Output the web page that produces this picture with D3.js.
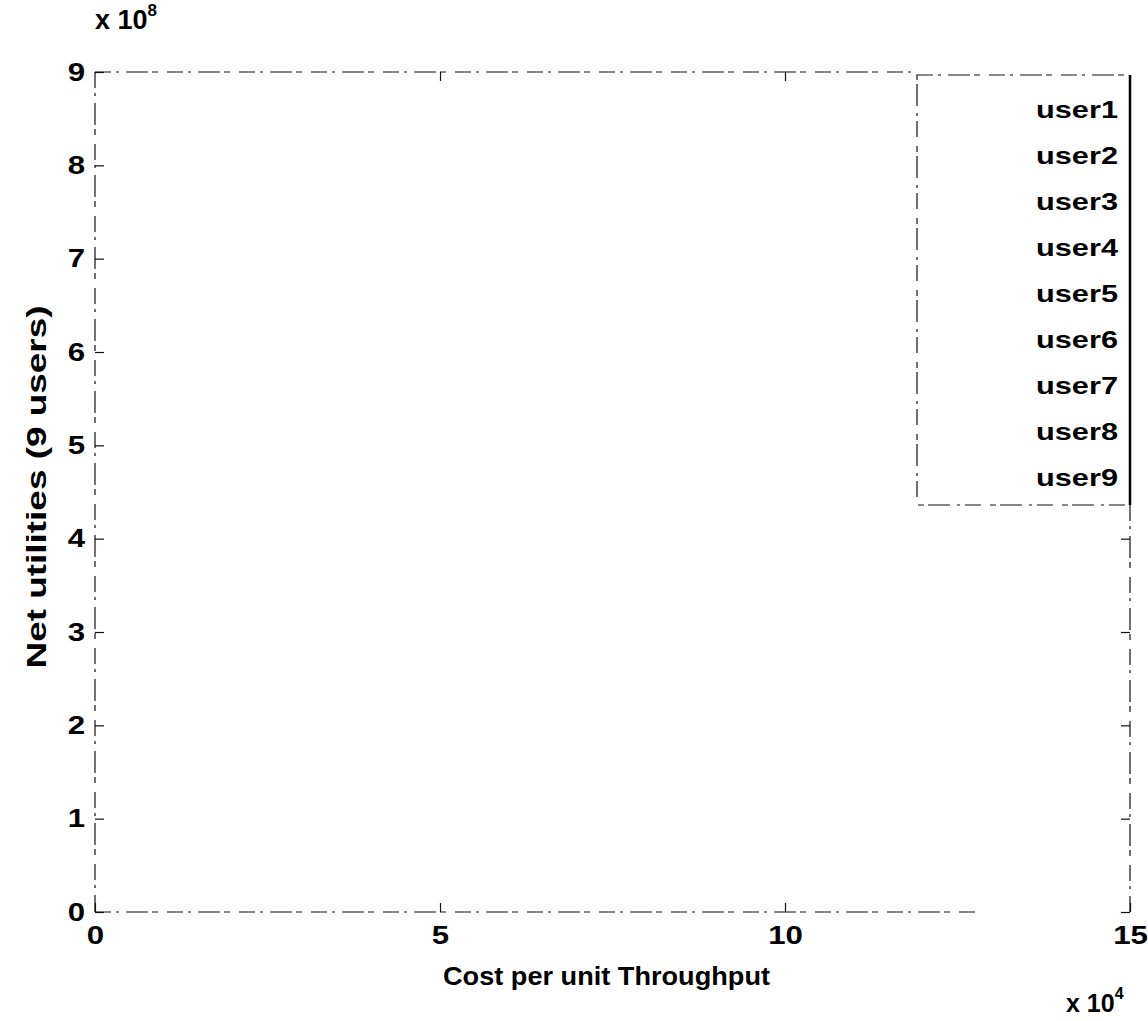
<!DOCTYPE html>
<html>
<head>
<meta charset="utf-8">
<script src="https://cdn.jsdelivr.net/npm/d3@7"></script>
<style>
  html, body { margin: 0; padding: 0; background: #fff; }
  svg { display: block; font-family: "Liberation Sans", Arial, sans-serif; font-weight: bold; }
</style>
</head>
<body>
<svg id="chart" width="1148" height="1021"></svg>
<script>
// Axis ticks (x in units of 1e4, y in units of 1e8)
const xTicks = [0, 5, 10, 15];
const yTicks = [0, 1, 2, 3, 4, 5, 6, 7, 8, 9];
const xDomain = [0, 15];
const yDomain = [0, 9];
// Legend entries
const users = ["user1", "user2", "user3", "user4", "user5", "user6", "user7", "user8", "user9"];
const xLabel = "Cost per unit Throughput";
const yLabel = "Net utilities (9 users)";

const svg = d3.select("#chart");
const box = { left: 95, right: 1130, top: 72, bottom: 912 };

const x = d3.scaleLinear().domain(xDomain).range([box.left, box.right]);
const y = d3.scaleLinear().domain(yDomain).range([box.bottom, box.top]);

const ink = "#111";
const broken = "16,5,3,7,22,4,6,9";

// widen glyphs along the text direction (condensed-heavy print look)
function widen(sel, factor) {
  sel.each(function () {
    const w = this.getComputedTextLength();
    d3.select(this).attr("textLength", w * factor).attr("lengthAdjust", "spacingAndGlyphs");
  });
}

// plot frame
const frame = svg.append("g").attr("fill", "none").attr("stroke", ink).attr("stroke-width", 1.2)
  .attr("stroke-dasharray", broken);
frame.append("line").attr("x1", box.left).attr("x2", box.left).attr("y1", box.top).attr("y2", box.bottom);
frame.append("line").attr("x1", box.left).attr("x2", 975).attr("y1", box.bottom).attr("y2", box.bottom);
frame.append("line").attr("x1", box.left).attr("x2", 917).attr("y1", box.top).attr("y2", box.top);
frame.append("line").attr("x1", box.right).attr("x2", box.right).attr("y1", 505).attr("y2", box.bottom);

// axes with inward ticks
const axisStyle = g => {
  g.select(".domain").remove();
  g.selectAll(".tick line").attr("stroke", ink).attr("stroke-width", 1.2);
  g.selectAll(".tick text").attr("fill", "#000").style("font-size", "26px").style("font-weight", "bold");
};

const gx = svg.append("g")
  .attr("transform", `translate(0,${box.bottom})`)
  .call(d3.axisBottom(x).tickValues(xTicks).tickSizeInner(-9).tickSizeOuter(0).tickPadding(14).tickFormat(d3.format("d")))
  .call(axisStyle);
widen(gx.selectAll(".tick text"), 1.2);

const gy = svg.append("g")
  .attr("transform", `translate(${box.left},0)`)
  .call(d3.axisLeft(y).tickValues(yTicks).tickSizeInner(-9).tickSizeOuter(0).tickPadding(10).tickFormat(d3.format("d")))
  .call(axisStyle);
widen(gy.selectAll(".tick text"), 1.2);

svg.append("g")
  .attr("transform", `translate(${box.right},0)`)
  .call(d3.axisRight(y).tickValues(yTicks.filter(d => y(d) > 505)).tickSizeInner(-9).tickSizeOuter(0).tickFormat(""))
  .call(axisStyle);

svg.append("g")
  .attr("transform", `translate(0,${box.top})`)
  .call(d3.axisTop(x).tickValues(xTicks.filter(d => x(d) < 917 && d > 0)).tickSizeInner(-9).tickSizeOuter(0).tickFormat(""))
  .call(axisStyle);

// exponent labels
const yExp = svg.append("text").attr("x", 95).attr("y", 29).attr("font-size", 27).attr("fill", "#000");
yExp.append("tspan").text("x 10");
yExp.append("tspan").attr("dy", -13).attr("font-size", 17).text("8");

const xExp = svg.append("text").attr("x", 1066).attr("y", 1012).attr("font-size", 25).attr("fill", "#000");
xExp.append("tspan").text("x 10");
xExp.append("tspan").attr("dy", -13).attr("font-size", 16).text("4");

// axis titles
const xt = svg.append("text")
  .attr("x", (box.left + box.right) / 2 - 6).attr("y", 985)
  .attr("text-anchor", "middle").attr("font-size", 26).attr("fill", "#000")
  .text(xLabel);
xt.attr("textLength", 327).attr("lengthAdjust", "spacingAndGlyphs");

const yt = svg.append("text")
  .attr("transform", `translate(46,487) rotate(-90)`)
  .attr("text-anchor", "middle").attr("font-size", 28).attr("fill", "#000")
  .text(yLabel);
yt.attr("textLength", 363).attr("lengthAdjust", "spacingAndGlyphs");

// legend
const legend = { left: 917, top: 75, right: 1130, bottom: 505 };
const lg = svg.append("g");
lg.append("rect")
  .attr("x", legend.left).attr("y", legend.top)
  .attr("width", legend.right - legend.left).attr("height", legend.bottom - legend.top)
  .attr("fill", "#fff").attr("stroke", ink).attr("stroke-width", 1.2).attr("stroke-dasharray", broken);
lg.append("line")
  .attr("x1", legend.right).attr("x2", legend.right).attr("y1", legend.top).attr("y2", legend.bottom)
  .attr("stroke", "#000").attr("stroke-width", 2.5);

const rowY = d3.scalePoint().domain(users).range([118, 486]);
const entries = lg.selectAll("text.entry").data(users).join("text")
  .attr("class", "entry")
  .attr("x", 1118).attr("y", d => rowY(d))
  .attr("text-anchor", "end").attr("font-size", 24).attr("fill", "#000")
  .text(d => d);
widen(entries, 1.28);
</script>
</body>
</html>
